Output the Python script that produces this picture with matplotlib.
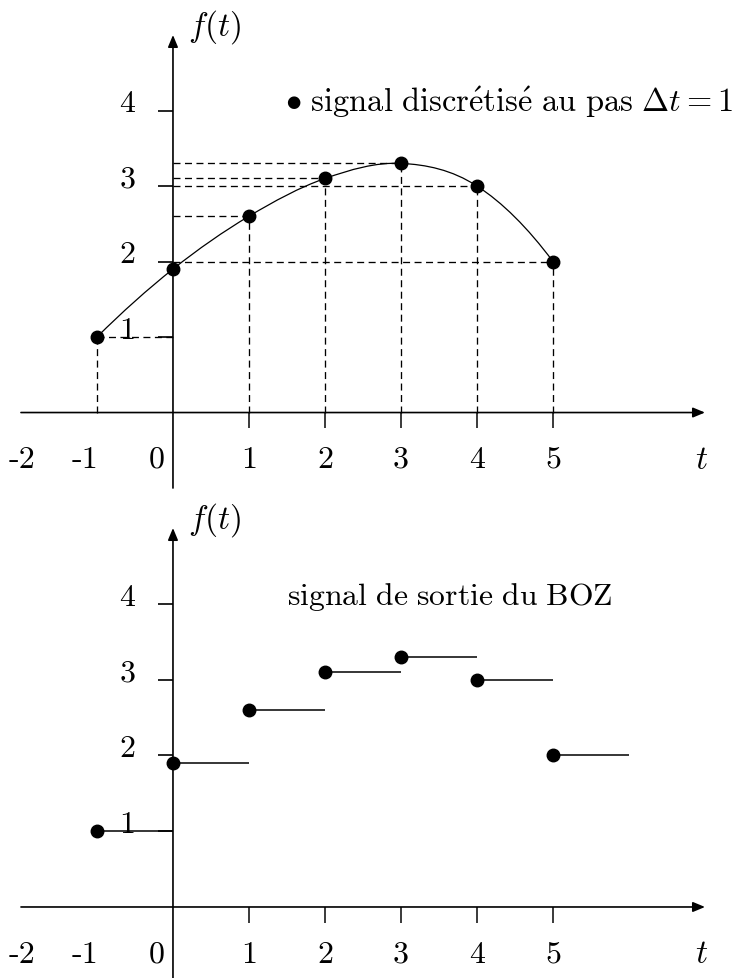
import numpy as np
import matplotlib
matplotlib.use("Agg")
import matplotlib.pyplot as plt
from matplotlib.path import Path
from matplotlib.patches import PathPatch, ArrowStyle

plt.rcParams['mathtext.fontset'] = 'cm'

# ---- data ----
t_samples = [-1, 0, 1, 2, 3, 4, 5]
f_samples = [1.0, 1.9, 2.6, 3.1, 3.3, 3.0, 2.0]
x_tick_values = [-2, -1, 0, 1, 2, 3, 4, 5]
x_tick_labels = ['-2', '-1', '0', '1', '2', '3', '4', '5']
y_tick_values = [1, 2, 3, 4]
y_tick_labels = ['1', '2', '3', '4']
top_note = r"$\bullet\ \mathrm{signal\ discr\acute{e}tis\acute{e}\ au\ pas}\ \Delta t = 1$"
bottom_note = r"$\mathrm{signal\ de\ sortie\ du\ BOZ}$"

t = np.array(t_samples, dtype=float)
f = np.array(f_samples, dtype=float)

FS_TICK = 23
FS_NOTE_TOP = 23.4
FS_NOTE_BOT = 22.8
FS_AX = 24
LW_AX = 1.2
LW_DASH = 0.95
DASH = (0, (5.3, 3.4))
MS = 9

fig = plt.figure(figsize=(7.34, 9.79), dpi=100)
ax_top = fig.add_axes([0, 484 / 979, 1, 495 / 979])
ax_bot = fig.add_axes([0, 0, 1, 484 / 979])

XLIM = (-2.276, 7.382)
ax_top.set_xlim(*XLIM)
ax_top.set_ylim(-1.079, 5.477)
ax_bot.set_xlim(*XLIM)
ax_bot.set_ylim(-0.937, 5.449)

astyle = ArrowStyle('-|>', head_length=0.6, head_width=0.25)
label_offsets = {'-2': 0.02, '-1': -0.16, '0': -0.21}


def put_label(ax, x, y, lab):
    ax.text(x, y, lab, ha='center', va='baseline', fontsize=FS_TICK,
            family='cmr10')


def draw_frame(ax, ybottom):
    ax.axis('off')
    ax.annotate('', xy=(7.0, 0), xytext=(-2.0, 0),
                arrowprops=dict(arrowstyle=astyle, lw=LW_AX, color='k',
                                shrinkA=0, shrinkB=0, mutation_scale=12))
    ax.annotate('', xy=(0, 5.0), xytext=(0, ybottom),
                arrowprops=dict(arrowstyle=astyle, lw=LW_AX, color='k',
                                shrinkA=0, shrinkB=0, mutation_scale=12))
    # y ticks
    ax.hlines(y_tick_values, -0.2, 0, colors='k', lw=LW_AX)
    for v, lab in zip(y_tick_values, y_tick_labels):
        put_label(ax, -0.6, v - 0.01, lab)
    # x ticks
    pos = [v for v in x_tick_values if v > 0]
    ax.vlines(pos, -0.21, 0, colors='k', lw=LW_AX * 0.9)
    for v, lab in zip(x_tick_values, x_tick_labels):
        put_label(ax, v + label_offsets.get(lab, 0.0), -0.72, lab)
    ax.text(6.96, -0.73, r'$t$', ha='center', va='baseline', fontsize=FS_AX)
    ax.text(0.2, 5.0, r'$f(t)$', ha='left', va='baseline', fontsize=FS_AX)


draw_frame(ax_top, -1.0)
draw_frame(ax_bot, -0.95)

# ---- top panel: smooth signal + samples ----
n = len(t)
m = np.zeros(n)
m[1:-1] = (f[2:] - f[:-2]) / (t[2:] - t[:-2])
m[0] = 2 * (f[1] - f[0]) / (t[1] - t[0]) - m[1]
m[-1] = 2 * (f[-1] - f[-2]) / (t[-1] - t[-2]) - m[-2]
verts = [(t[0], f[0])]
codes = [Path.MOVETO]
for i in range(n - 1):
    h = t[i + 1] - t[i]
    verts += [(t[i] + h / 3, f[i] + m[i] * h / 3),
              (t[i + 1] - h / 3, f[i + 1] - m[i + 1] * h / 3),
              (t[i + 1], f[i + 1])]
    codes += [Path.CURVE4] * 3
ax_top.add_patch(PathPatch(Path(verts, codes), fill=False, lw=0.9, color='k'))

nz = t != 0
ax_top.vlines(t[nz], 0, f[nz], colors='k', lw=LW_DASH, linestyles=[DASH])
ax_top.hlines(f[nz], np.minimum(t[nz], 0), np.maximum(t[nz], 0), colors='k',
              lw=LW_DASH, linestyles=[DASH])
ax_top.plot(t, f, 'o', color='k', ms=MS, zorder=5)
ax_top.text(1.47, 4.0, top_note, ha='left', va='baseline', fontsize=FS_NOTE_TOP)

# ---- bottom panel: zero-order hold output ----
ax_bot.hlines(f, t, t + 1, colors='k', lw=1.1)
ax_bot.plot(t, f, 'o', color='k', ms=MS, zorder=5)
ax_bot.text(1.5, 4.0, bottom_note, ha='left', va='baseline', fontsize=FS_NOTE_BOT)

fig.savefig('out.png', dpi=100)
